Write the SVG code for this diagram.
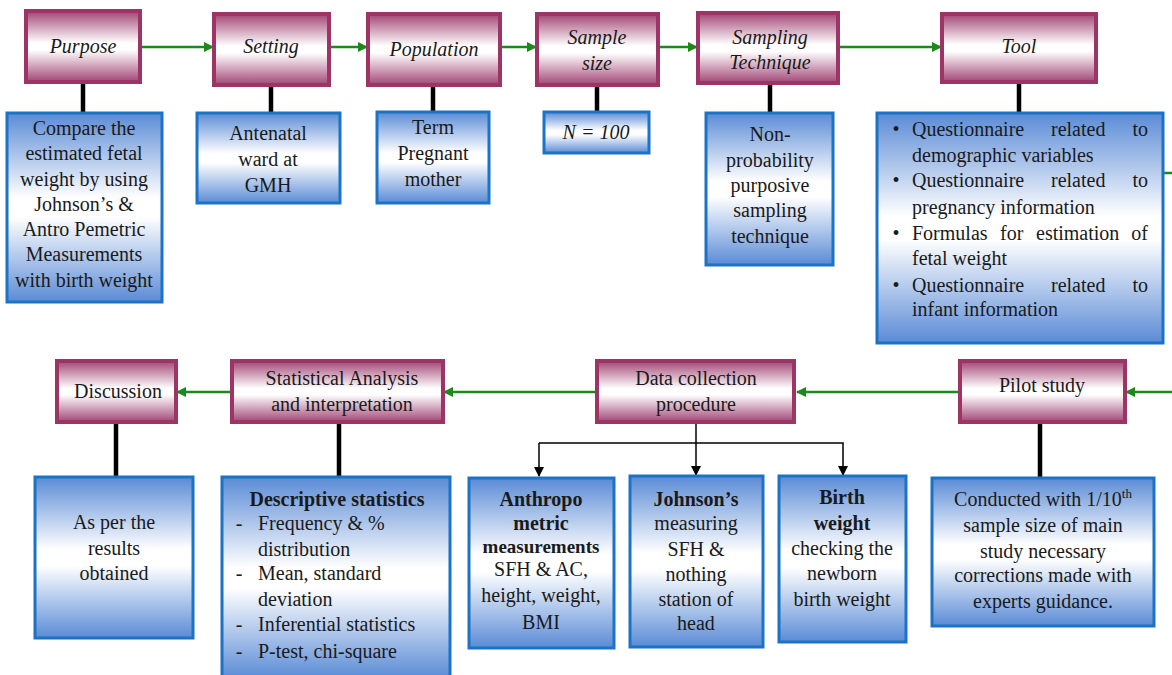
<svg xmlns="http://www.w3.org/2000/svg" width="1172" height="675" viewBox="0 0 1172 675">
<defs>
<linearGradient id="gM" x1="0" y1="0" x2="0" y2="1">
<stop offset="0" stop-color="#a24675"/><stop offset="0.45" stop-color="#ffffff"/><stop offset="0.55" stop-color="#ffffff"/><stop offset="1" stop-color="#a24675"/>
</linearGradient>
<linearGradient id="gB" x1="0" y1="0" x2="0" y2="1">
<stop offset="0" stop-color="#5a8bd6"/><stop offset="0.45" stop-color="#ffffff"/><stop offset="0.55" stop-color="#ffffff"/><stop offset="1" stop-color="#5a8bd6"/>
</linearGradient>
<marker id="ag" viewBox="0 0 10 10" refX="9" refY="5" markerWidth="11" markerHeight="10" markerUnits="userSpaceOnUse" orient="auto">
<path d="M0,0 L10,5 L0,10 z" fill="#1a8a1a"/>
</marker>
<marker id="ak" viewBox="0 0 10 10" refX="9" refY="5" markerWidth="10" markerHeight="10" markerUnits="userSpaceOnUse" orient="auto">
<path d="M0,0 L10,5 L0,10 z" fill="#000"/>
</marker>
</defs>
<g id="connectors" fill="none">
<g stroke="#1a8a1a" stroke-width="2.5">
<line x1="140" y1="47" x2="213" y2="47" marker-end="url(#ag)"/>
<line x1="329" y1="47" x2="367" y2="47" marker-end="url(#ag)"/>
<line x1="500" y1="47" x2="536" y2="47" marker-end="url(#ag)"/>
<line x1="658" y1="47" x2="697" y2="47" marker-end="url(#ag)"/>
<line x1="838" y1="47" x2="941" y2="47" marker-end="url(#ag)"/>
<line x1="1163" y1="173" x2="1172" y2="173"/>
<line x1="1172" y1="392" x2="1126" y2="392" marker-end="url(#ag)"/>
<line x1="960" y1="392" x2="797" y2="392" marker-end="url(#ag)"/>
<line x1="597" y1="392" x2="444" y2="392" marker-end="url(#ag)"/>
<line x1="232" y1="392" x2="177" y2="392" marker-end="url(#ag)"/>
</g>
<g stroke="#000" stroke-width="4.5">
<line x1="83" y1="82" x2="83" y2="113"/>
<line x1="271" y1="85" x2="271" y2="113"/>
<line x1="433" y1="85" x2="433" y2="112"/>
<line x1="597" y1="85" x2="597" y2="112"/>
<line x1="770" y1="83" x2="770" y2="113"/>
<line x1="1019" y1="82" x2="1019" y2="113"/>
<line x1="116" y1="422" x2="116" y2="477"/>
<line x1="339" y1="422" x2="339" y2="477"/>
<line x1="1040" y1="422" x2="1040" y2="478"/>
</g>
<g stroke="#000" stroke-width="1.5">
<line x1="696" y1="422" x2="696" y2="475" marker-end="url(#ak)"/>
<polyline points="539,443 843,443 843,475" marker-end="url(#ak)"/>
<line x1="539" y1="443" x2="539" y2="476" marker-end="url(#ak)"/>
</g>
</g>
<g fill="url(#gM)" stroke="#9c3566" stroke-width="4">
<rect id="purpose-box" x="26" y="11" width="114" height="71"/>
<rect id="setting-box" x="214" y="14" width="115" height="71"/>
<rect id="population-box" x="368" y="14" width="132" height="71"/>
<rect id="sample-size-box" x="537" y="14" width="121" height="71"/>
<rect id="sampling-technique-box" x="698" y="13" width="140" height="70"/>
<rect id="tool-box" x="942" y="14" width="154" height="68"/>
<rect id="discussion-box" x="57" y="361" width="119" height="61"/>
<rect id="statistical-analysis-box" x="232" y="361" width="211" height="61"/>
<rect id="data-collection-box" x="597" y="361" width="197" height="61"/>
<rect id="pilot-study-box" x="960" y="361" width="165" height="61"/>
</g>
<g fill="url(#gB)" stroke="#1b73c6" stroke-width="3">
<rect id="purpose-detail-box" x="7" y="113" width="155" height="189"/>
<rect id="setting-detail-box" x="197" y="113" width="143" height="90"/>
<rect id="population-detail-box" x="377" y="112" width="112" height="91"/>
<rect id="sample-detail-box" x="544" y="112" width="105" height="41"/>
<rect id="sampling-detail-box" x="706" y="113" width="127" height="152"/>
<rect id="tool-detail-box" x="877" y="113" width="286" height="230"/>
<rect id="discussion-detail-box" x="35" y="477" width="158" height="161"/>
<rect id="statistics-detail-box" x="222" y="477" width="228" height="202"/>
<rect id="anthropometric-box" x="469" y="478" width="145" height="170"/>
<rect id="johnsons-box" x="630" y="476" width="133" height="171"/>
<rect id="birth-weight-box" x="779" y="476" width="127" height="166"/>
<rect id="pilot-detail-box" x="932" y="478" width="222" height="148"/>
</g>
<g id="labels" fill="#1a1a1a" font-size="20">
<g id="headers-top" text-anchor="middle" font-style="italic">
<text font-family="Liberation Serif, Tinos, Times New Roman, serif" x="83" y="53">Purpose</text>
<text font-family="Liberation Serif, Tinos, Times New Roman, serif" x="271" y="53">Setting</text>
<text font-family="Liberation Serif, Tinos, Times New Roman, serif" x="434" y="56">Population</text>
<text font-family="Liberation Serif, Tinos, Times New Roman, serif" x="597" y="44">Sample</text>
<text font-family="Liberation Serif, Tinos, Times New Roman, serif" x="597" y="70">size</text>
<text font-family="Liberation Serif, Tinos, Times New Roman, serif" x="770" y="44">Sampling</text>
<text font-family="Liberation Serif, Tinos, Times New Roman, serif" x="770" y="69">Technique</text>
<text font-family="Liberation Serif, Tinos, Times New Roman, serif" x="1019" y="53">Tool</text>
<text font-family="Liberation Serif, Tinos, Times New Roman, serif" x="596" y="139">N = 100</text>
</g>
<g id="top-details" text-anchor="middle">
<text font-family="Liberation Serif, Tinos, Times New Roman, serif" x="84" y="135">Compare the</text>
<text font-family="Liberation Serif, Tinos, Times New Roman, serif" x="84" y="160">estimated fetal</text>
<text font-family="Liberation Serif, Tinos, Times New Roman, serif" x="84" y="186">weight by using</text>
<text font-family="Liberation Serif, Tinos, Times New Roman, serif" x="84" y="211">Johnson’s &amp;</text>
<text font-family="Liberation Serif, Tinos, Times New Roman, serif" x="84" y="236">Antro Pemetric</text>
<text font-family="Liberation Serif, Tinos, Times New Roman, serif" x="84" y="261">Measurements</text>
<text font-family="Liberation Serif, Tinos, Times New Roman, serif" x="84" y="287">with birth weight</text>
<text font-family="Liberation Serif, Tinos, Times New Roman, serif" x="268" y="140">Antenatal</text>
<text font-family="Liberation Serif, Tinos, Times New Roman, serif" x="268" y="166">ward at</text>
<text font-family="Liberation Serif, Tinos, Times New Roman, serif" x="268" y="192">GMH</text>
<text font-family="Liberation Serif, Tinos, Times New Roman, serif" x="433" y="134">Term</text>
<text font-family="Liberation Serif, Tinos, Times New Roman, serif" x="433" y="160">Pregnant</text>
<text font-family="Liberation Serif, Tinos, Times New Roman, serif" x="433" y="186">mother</text>
<text font-family="Liberation Serif, Tinos, Times New Roman, serif" x="770" y="141">Non-</text>
<text font-family="Liberation Serif, Tinos, Times New Roman, serif" x="770" y="167">probability</text>
<text font-family="Liberation Serif, Tinos, Times New Roman, serif" x="770" y="192">purposive</text>
<text font-family="Liberation Serif, Tinos, Times New Roman, serif" x="770" y="217">sampling</text>
<text font-family="Liberation Serif, Tinos, Times New Roman, serif" x="770" y="243">technique</text>
<text font-family="Liberation Serif, Tinos, Times New Roman, serif" x="896" y="136">•</text>
<text font-family="Liberation Serif, Tinos, Times New Roman, serif" x="896" y="187">•</text>
<text font-family="Liberation Serif, Tinos, Times New Roman, serif" x="896" y="240">•</text>
<text font-family="Liberation Serif, Tinos, Times New Roman, serif" x="896" y="292">•</text>
</g>
<g id="tool-list">
<text font-family="Liberation Serif, Tinos, Times New Roman, serif" x="912" y="136">Questionnaire</text><text font-family="Liberation Serif, Tinos, Times New Roman, serif" x="1051" y="136">related</text><text font-family="Liberation Serif, Tinos, Times New Roman, serif" text-anchor="end" x="1148" y="136">to</text>
<text font-family="Liberation Serif, Tinos, Times New Roman, serif" x="912" y="162">demographic variables</text>
<text font-family="Liberation Serif, Tinos, Times New Roman, serif" x="912" y="187">Questionnaire</text><text font-family="Liberation Serif, Tinos, Times New Roman, serif" x="1051" y="187">related</text><text font-family="Liberation Serif, Tinos, Times New Roman, serif" text-anchor="end" x="1148" y="187">to</text>
<text font-family="Liberation Serif, Tinos, Times New Roman, serif" x="912" y="214">pregnancy information</text>
<text font-family="Liberation Serif, Tinos, Times New Roman, serif" x="912" y="240">Formulas</text><text font-family="Liberation Serif, Tinos, Times New Roman, serif" x="1000" y="240">for</text><text font-family="Liberation Serif, Tinos, Times New Roman, serif" x="1036" y="240">estimation</text><text font-family="Liberation Serif, Tinos, Times New Roman, serif" text-anchor="end" x="1148" y="240">of</text>
<text font-family="Liberation Serif, Tinos, Times New Roman, serif" x="912" y="265">fetal weight</text>
<text font-family="Liberation Serif, Tinos, Times New Roman, serif" x="912" y="292">Questionnaire</text><text font-family="Liberation Serif, Tinos, Times New Roman, serif" x="1051" y="292">related</text><text font-family="Liberation Serif, Tinos, Times New Roman, serif" text-anchor="end" x="1148" y="292">to</text>
<text font-family="Liberation Serif, Tinos, Times New Roman, serif" x="912" y="316">infant information</text>
</g>
<g id="bottom-headers" text-anchor="middle">
<text font-family="Liberation Serif, Tinos, Times New Roman, serif" x="118" y="398">Discussion</text>
<text font-family="Liberation Serif, Tinos, Times New Roman, serif" x="342" y="385">Statistical Analysis</text>
<text font-family="Liberation Serif, Tinos, Times New Roman, serif" x="342" y="411">and interpretation</text>
<text font-family="Liberation Serif, Tinos, Times New Roman, serif" x="696" y="385">Data collection</text>
<text font-family="Liberation Serif, Tinos, Times New Roman, serif" x="696" y="411">procedure</text>
<text font-family="Liberation Serif, Tinos, Times New Roman, serif" x="1042" y="392">Pilot study</text>
</g>
<g id="bottom-details" text-anchor="middle">
<text font-family="Liberation Serif, Tinos, Times New Roman, serif" x="114" y="529">As per the</text>
<text font-family="Liberation Serif, Tinos, Times New Roman, serif" x="114" y="555">results</text>
<text font-family="Liberation Serif, Tinos, Times New Roman, serif" x="114" y="580">obtained</text>
<text font-family="Liberation Serif, Tinos, Times New Roman, serif" font-weight="bold" x="337" y="506">Descriptive statistics</text>
<text font-family="Liberation Serif, Tinos, Times New Roman, serif" x="239" y="530">-</text>
<text font-family="Liberation Serif, Tinos, Times New Roman, serif" x="239" y="580">-</text>
<text font-family="Liberation Serif, Tinos, Times New Roman, serif" x="239" y="631">-</text>
<text font-family="Liberation Serif, Tinos, Times New Roman, serif" x="239" y="658">-</text>
<text font-family="Liberation Serif, Tinos, Times New Roman, serif" font-weight="bold" x="541" y="506">Anthropo</text>
<text font-family="Liberation Serif, Tinos, Times New Roman, serif" font-weight="bold" x="541" y="530">metric</text>
<text font-family="Liberation Serif, Tinos, Times New Roman, serif" font-weight="bold" font-size="19" x="541" y="553">measurements</text>
<text font-family="Liberation Serif, Tinos, Times New Roman, serif" x="541" y="576">SFH &amp; AC,</text>
<text font-family="Liberation Serif, Tinos, Times New Roman, serif" x="541" y="602">height, weight,</text>
<text font-family="Liberation Serif, Tinos, Times New Roman, serif" x="541" y="629">BMI</text>
<text font-family="Liberation Serif, Tinos, Times New Roman, serif" font-weight="bold" x="696" y="506">Johnson’s</text>
<text font-family="Liberation Serif, Tinos, Times New Roman, serif" x="696" y="530">measuring</text>
<text font-family="Liberation Serif, Tinos, Times New Roman, serif" x="696" y="556">SFH &amp;</text>
<text font-family="Liberation Serif, Tinos, Times New Roman, serif" x="696" y="581">nothing</text>
<text font-family="Liberation Serif, Tinos, Times New Roman, serif" x="696" y="606">station of</text>
<text font-family="Liberation Serif, Tinos, Times New Roman, serif" x="696" y="630">head</text>
<text font-family="Liberation Serif, Tinos, Times New Roman, serif" font-weight="bold" x="842" y="504">Birth</text>
<text font-family="Liberation Serif, Tinos, Times New Roman, serif" font-weight="bold" x="842" y="530">weight</text>
<text font-family="Liberation Serif, Tinos, Times New Roman, serif" x="842" y="555">checking the</text>
<text font-family="Liberation Serif, Tinos, Times New Roman, serif" x="842" y="580">newborn</text>
<text font-family="Liberation Serif, Tinos, Times New Roman, serif" x="842" y="606">birth weight</text>
<text font-family="Liberation Serif, Tinos, Times New Roman, serif" x="1043" y="506">Conducted with 1/10<tspan font-size="13" dy="-8">th</tspan></text>
<text font-family="Liberation Serif, Tinos, Times New Roman, serif" x="1043" y="532">sample size of main</text>
<text font-family="Liberation Serif, Tinos, Times New Roman, serif" x="1043" y="558">study necessary</text>
<text font-family="Liberation Serif, Tinos, Times New Roman, serif" x="1043" y="582">corrections made with</text>
<text font-family="Liberation Serif, Tinos, Times New Roman, serif" x="1043" y="608">experts guidance.</text>
</g>
<g id="stat-list">
<text font-family="Liberation Serif, Tinos, Times New Roman, serif" x="258" y="530">Frequency &amp; %</text>
<text font-family="Liberation Serif, Tinos, Times New Roman, serif" x="258" y="556">distribution</text>
<text font-family="Liberation Serif, Tinos, Times New Roman, serif" x="258" y="580">Mean, standard</text>
<text font-family="Liberation Serif, Tinos, Times New Roman, serif" x="258" y="606">deviation</text>
<text font-family="Liberation Serif, Tinos, Times New Roman, serif" x="258" y="631">Inferential statistics</text>
<text font-family="Liberation Serif, Tinos, Times New Roman, serif" x="258" y="658">P-test, chi-square</text>
</g>
</g>
</svg>
